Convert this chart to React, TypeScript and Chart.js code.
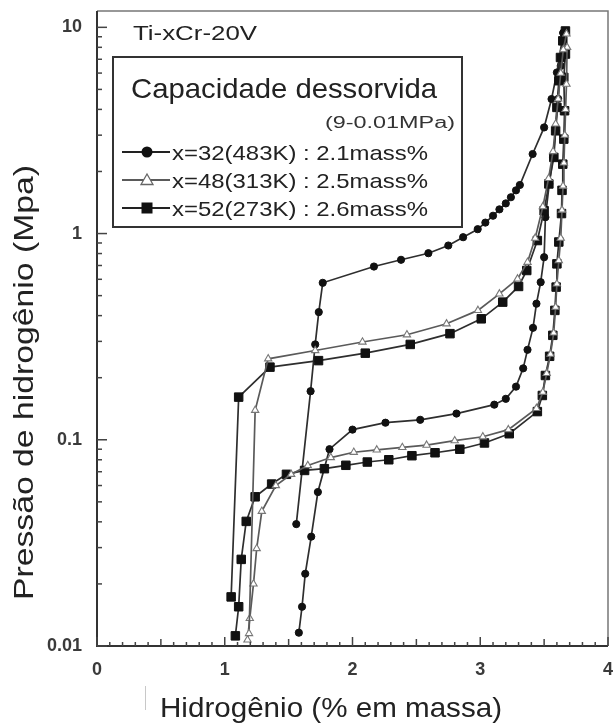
import React, { useEffect, useRef } from 'react';
import { Chart, registerables } from 'chart.js';

Chart.register(...registerables);

// ---- axis ticks ----
const xTickValues = [0, 1, 2, 3, 4];
const yTickValues = [0.01, 0.1, 1, 10];

// ---- legend / annotation text ----
const chartLabel = 'Ti-xCr-20V';
const legendTitle = 'Capacidade dessorvida';
const legendNote = '(9-0.01MPa)';
const seriesLabels = ['x=32(483K) : 2.1mass%', 'x=48(313K) : 2.5mass%', 'x=52(273K) : 2.6mass%'];
const xTitle = 'Hidrogênio (% em massa)';
const yTitle = 'Pressão de hidrogênio (Mpa)';

// ---- x=32 (483K), filled circles ----
const c32AbsX = [1.56, 1.672, 1.708, 1.736, 1.767, 2.168, 2.38, 2.594, 2.75, 2.866, 2.98, 3.04, 3.10, 3.15, 3.20, 3.24, 3.28, 3.31, 3.41, 3.50, 3.558, 3.60, 3.65];
const c32AbsY = [0.039, 0.172, 0.29, 0.416, 0.577, 0.692, 0.746, 0.803, 0.875, 0.96, 1.05, 1.13, 1.22, 1.31, 1.40, 1.50, 1.62, 1.72, 2.43, 3.27, 4.49, 6.04, 9.4];
const c32DesX = [1.58, 1.605, 1.63, 1.677, 1.729, 1.82, 2.0, 2.258, 2.53, 2.814, 3.11, 3.20, 3.28, 3.336, 3.37, 3.413, 3.44, 3.473, 3.50, 3.51, 3.54, 3.57, 3.59, 3.61, 3.63, 3.65];
const c32DesY = [0.0116, 0.0155, 0.0224, 0.0339, 0.0558, 0.090, 0.112, 0.121, 0.125, 0.134, 0.148, 0.158, 0.181, 0.222, 0.273, 0.349, 0.457, 0.581, 0.768, 1.2, 1.74, 2.34, 3.15, 4.5, 6.5, 9.4];

// ---- x=48 (313K), open triangles ----
const t48AbsX = [1.19, 1.238, 1.34, 1.708, 2.078, 2.426, 2.736, 2.982, 3.15, 3.292, 3.37, 3.43, 3.49, 3.535, 3.57, 3.59, 3.61, 3.63, 3.65, 3.675];
const t48AbsY = [0.0115, 0.139, 0.247, 0.271, 0.298, 0.323, 0.365, 0.424, 0.51, 0.603, 0.726, 0.95, 1.35, 1.85, 2.5, 3.4, 4.5, 6.0, 7.8, 9.3];
const t48DesX = [1.178, 1.196, 1.225, 1.25, 1.29, 1.40, 1.52, 1.65, 1.83, 2.01, 2.19, 2.39, 2.58, 2.80, 3.02, 3.22, 3.44, 3.49, 3.52, 3.55, 3.575, 3.59, 3.60, 3.615, 3.63, 3.64, 3.648, 3.655, 3.662, 3.668, 3.675, 3.68];
const t48DesY = [0.0107, 0.0136, 0.020, 0.0297, 0.045, 0.060, 0.068, 0.075, 0.082, 0.087, 0.0893, 0.0918, 0.0942, 0.099, 0.1034, 0.112, 0.142, 0.17, 0.21, 0.26, 0.33, 0.44, 0.57, 0.74, 0.95, 1.3, 1.7, 2.2, 3.0, 4.0, 5.3, 8.0];

// ---- x=52 (273K), filled squares ----
const s52AbsX = [1.05, 1.109, 1.354, 1.734, 2.10, 2.452, 2.763, 3.008, 3.176, 3.30, 3.364, 3.447, 3.50, 3.537, 3.576, 3.59, 3.60, 3.615, 3.628, 3.646];
const s52AbsY = [0.0173, 0.161, 0.225, 0.242, 0.263, 0.290, 0.327, 0.386, 0.465, 0.554, 0.662, 0.925, 1.29, 1.74, 2.34, 3.15, 4.09, 5.51, 7.14, 8.6];
const s52DesX = [1.083, 1.109, 1.129, 1.168, 1.238, 1.367, 1.483, 1.625, 1.78, 1.948, 2.116, 2.284, 2.465, 2.646, 2.84, 3.033, 3.227, 3.447, 3.486, 3.51, 3.543, 3.568, 3.584, 3.594, 3.60, 3.615, 3.636, 3.64, 3.646, 3.654, 3.66, 3.654, 3.667, 3.667];
const s52DesY = [0.0112, 0.0155, 0.0263, 0.0402, 0.0529, 0.061, 0.068, 0.071, 0.0724, 0.0752, 0.078, 0.080, 0.0837, 0.0865, 0.090, 0.0965, 0.107, 0.137, 0.164, 0.205, 0.254, 0.321, 0.424, 0.55, 0.713, 0.91, 1.25, 1.62, 2.17, 2.87, 3.94, 5.72, 7.42, 9.6];

const zip = (xs: number[], ys: number[]) => xs.map((x, i) => ({ x, y: ys[i] }));

const LINE = '#2e2e2e';
const TRI_LINE = '#5a5a5a';

function fitText(ctx: CanvasRenderingContext2D, text: string, x: number, y: number, font: string, width: number, color = '#222') {
  ctx.save();
  ctx.font = font;
  ctx.fillStyle = color;
  ctx.textAlign = 'left';
  ctx.textBaseline = 'alphabetic';
  const w = ctx.measureText(text).width;
  ctx.translate(x, y);
  ctx.scale(width / w, 1);
  ctx.fillText(text, 0, 0);
  ctx.restore();
}

const FONT = '"Liberation Sans", Arial, sans-serif';

const decor = {
  id: 'decor',
  beforeDraw(chart: any) {
    const ctx = chart.ctx;
    ctx.save();
    ctx.fillStyle = '#fff';
    ctx.fillRect(0, 0, chart.width, chart.height);
    ctx.restore();
  },
  afterDraw(chart: any) {
    const ctx: CanvasRenderingContext2D = chart.ctx;
    const { left, right, top, bottom } = chart.chartArea;
    const xs = chart.scales.x;
    const ys = chart.scales.y;
    ctx.save();
    // frame
    ctx.strokeStyle = '#777';
    ctx.lineWidth = 1.5;
    ctx.beginPath();
    ctx.moveTo(left, top);
    ctx.lineTo(right, top);
    ctx.lineTo(right, bottom);
    ctx.stroke();
    ctx.strokeStyle = '#333';
    ctx.lineWidth = 2;
    ctx.beginPath();
    ctx.moveTo(left, top);
    ctx.lineTo(left, bottom);
    ctx.lineTo(right, bottom);
    ctx.stroke();
    // inward ticks on x axis
    ctx.lineWidth = 1.5;
    ctx.strokeStyle = '#444';
    for (let i = 0; i <= 40; i++) {
      const v = i / 10;
      const px = xs.getPixelForValue(v);
      const len = i % 10 === 0 ? 9 : i % 5 === 0 ? 7 : 4;
      ctx.beginPath();
      ctx.moveTo(px, bottom);
      ctx.lineTo(px, bottom - len);
      ctx.stroke();
    }
    // inward ticks on y axis
    for (let d = -2; d <= 1; d++) {
      for (let m = 1; m <= 9; m++) {
        const v = m * Math.pow(10, d);
        if (v > ys.max) continue;
        const py = ys.getPixelForValue(v);
        const len = m === 1 ? 10 : 5;
        ctx.beginPath();
        ctx.moveTo(left, py);
        ctx.lineTo(left + len, py);
        ctx.stroke();
      }
    }
    ctx.restore();

    // labels
    fitText(ctx, chartLabel, 133, 40, `21px ${FONT}`, 124);

    // legend box
    ctx.save();
    ctx.fillStyle = '#fff';
    ctx.fillRect(113, 57, 349, 170);
    ctx.strokeStyle = '#333';
    ctx.lineWidth = 2;
    ctx.strokeRect(113, 57, 349, 170);
    ctx.restore();
    fitText(ctx, legendTitle, 131, 98, `28px ${FONT}`, 306);
    fitText(ctx, legendNote, 325, 128, `16px ${FONT}`, 130, '#333');

    const rows = [152, 180, 208];
    rows.forEach((ry, i) => {
      ctx.save();
      ctx.strokeStyle = i === 1 ? TRI_LINE : '#222';
      ctx.lineWidth = 2;
      ctx.beginPath();
      ctx.moveTo(122, ry);
      ctx.lineTo(170, ry);
      ctx.stroke();
      if (i === 0) {
        ctx.fillStyle = '#111';
        ctx.beginPath();
        ctx.arc(147, ry, 5.5, 0, Math.PI * 2);
        ctx.fill();
      } else if (i === 1) {
        ctx.fillStyle = '#fff';
        ctx.strokeStyle = '#666';
        ctx.lineWidth = 1.3;
        ctx.beginPath();
        ctx.moveTo(147, ry - 6);
        ctx.lineTo(153, ry + 4.5);
        ctx.lineTo(141, ry + 4.5);
        ctx.closePath();
        ctx.fill();
        ctx.stroke();
      } else {
        ctx.fillStyle = '#111';
        ctx.fillRect(141.5, ry - 5.5, 11, 11);
      }
      ctx.restore();
      fitText(ctx, seriesLabels[i], 172, ry + 7.5, `21px ${FONT}`, 256);
    });

    // axis titles
    fitText(ctx, xTitle, 160, 717, `28px ${FONT}`, 342);
    ctx.save();
    ctx.translate(33, 600);
    ctx.rotate(-Math.PI / 2);
    fitText(ctx, yTitle, 0, 0, `28px ${FONT}`, 435);
    ctx.restore();

    // faint scan mark
    ctx.save();
    ctx.strokeStyle = '#c8c8c8';
    ctx.lineWidth = 1;
    ctx.beginPath();
    ctx.moveTo(145.5, 686);
    ctx.lineTo(145.5, 710);
    ctx.stroke();
    ctx.restore();
  },
};

export default function App() {
  const ref = useRef<HTMLCanvasElement | null>(null);
  useEffect(() => {
    if (!ref.current) return;
    const circ = { showLine: true, borderColor: LINE, borderWidth: 1.7, pointStyle: 'circle', pointRadius: 3.6, pointBackgroundColor: '#111', pointBorderColor: '#111', pointBorderWidth: 1 };
    const tri = { showLine: true, borderColor: TRI_LINE, borderWidth: 1.7, pointStyle: 'triangle', pointRadius: 4.2, pointBackgroundColor: '#fff', pointBorderColor: '#777', pointBorderWidth: 1.1 };
    const sq = { showLine: true, borderColor: LINE, borderWidth: 1.7, pointStyle: 'rect', pointRadius: 6, pointBackgroundColor: '#111', pointBorderColor: '#111', pointBorderWidth: 1 };
    const chart = new Chart(ref.current, {
      type: 'scatter',
      data: {
        datasets: [
          { label: 'x=48 abs', data: zip(t48AbsX, t48AbsY), ...tri },
          { label: 'x=48 des', data: zip(t48DesX, t48DesY), ...tri },
          { label: 'x=52 abs', data: zip(s52AbsX, s52AbsY), ...sq },
          { label: 'x=52 des', data: zip(s52DesX, s52DesY), ...sq },
          { label: 'x=32 abs', data: zip(c32AbsX, c32AbsY), ...circ },
          { label: 'x=32 des', data: zip(c32DesX, c32DesY), ...circ },
        ] as any,
      },
      options: {
        animation: false,
        responsive: false,
        layout: { padding: { left: 0, right: 2, top: 11, bottom: 0 } },
        plugins: { legend: { display: false }, tooltip: { enabled: false } },
        scales: {
          x: {
            type: 'linear',
            min: 0,
            max: 4,
            grid: { display: false, drawTicks: false },
            border: { display: false },
            afterBuildTicks: (s: any) => { s.ticks = xTickValues.map((v) => ({ value: v })); },
            afterFit: (s: any) => { s.height = 78; s.paddingLeft = 0; s.paddingRight = 0; },
            ticks: { padding: 13, color: '#3a3a3a', font: { family: FONT, size: 18, weight: 'bold' }, maxRotation: 0, autoSkip: false, callback: (v: any) => String(v) },
          },
          y: {
            type: 'logarithmic',
            min: 0.01,
            max: 12,
            grid: { display: false, drawTicks: false },
            border: { display: false },
            afterBuildTicks: (s: any) => { s.ticks = yTickValues.map((v) => ({ value: v })); },
            afterFit: (s: any) => { s.width = 97; s.paddingTop = 0; s.paddingBottom = 0; },
            ticks: { padding: 15, color: '#3a3a3a', font: { family: FONT, size: 18, weight: 'bold' }, autoSkip: false, callback: (v: any) => String(v) },
          },
        },
      } as any,
      plugins: [decor],
    });
    return () => chart.destroy();
  }, []);
  return (
    <div style={{ position: 'absolute', left: 0, top: 0, width: 615, height: 724 }}>
      <canvas ref={ref} width={615} height={724} style={{ display: 'block' }} />
    </div>
  );
}
